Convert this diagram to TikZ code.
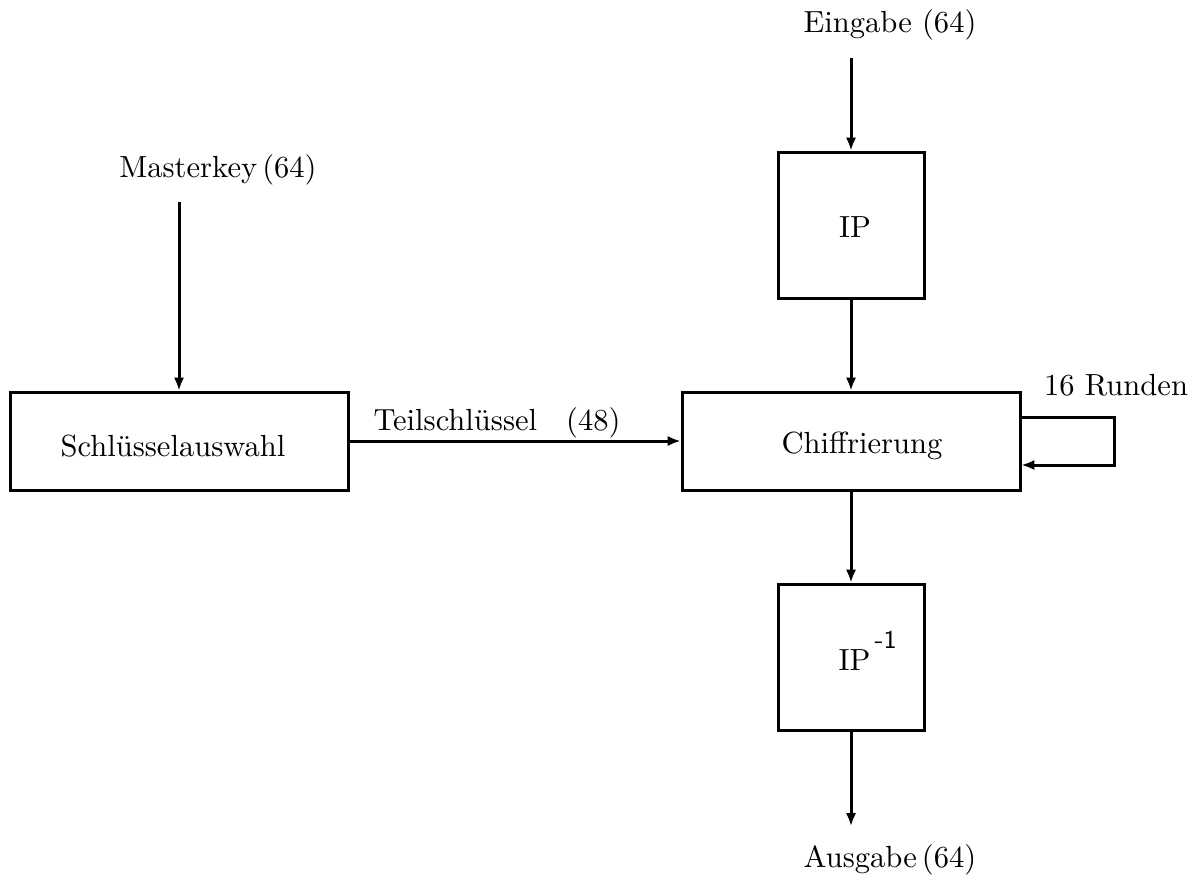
\documentclass[tikz,border=0pt]{standalone}
\usetikzlibrary{arrows.meta}
\begin{document}
\begin{tikzpicture}[x=0.35pt,y=-0.35pt,
  box/.style={draw,line width=1.05pt,inner sep=0pt},
  conn/.style={line width=1.05pt,-{Latex[length=4.5pt,width=3.6pt]}},
  lbl/.style={inner sep=0pt,font=\fontsize{10.7}{13}\selectfont}]
\useasboundingbox (0,0) rectangle (1204,883);
\node[box,minimum width=146*0.35pt,minimum height=146*0.35pt] (ip) at (851,225) {};
\node[lbl] at (855,227) {IP};
\node[box,minimum width=338*0.35pt,minimum height=98*0.35pt] (ch) at (851,441) {};
\node[lbl] at (862,446) {Chiffrierung};
\node[box,minimum width=146*0.35pt,minimum height=146*0.35pt] (ipi) at (851,657) {};
\node[lbl,anchor=base west] at (838,670) {IP\kern1.5pt\raisebox{7.6pt}{\sffamily\fontsize{9}{11}\selectfont -1}};
\node[box,minimum width=338*0.35pt,minimum height=98*0.35pt] (sa) at (179,441) {};
\node[lbl] at (173,446) {Schl\"usselauswahl};
\node[lbl] (ein) at (890,25) {Eingabe (64)};
\node[lbl] (aus) at (890,860) {Ausgabe\,(64)};
\node[lbl] (mk) at (218,170) {Masterkey\,(64)};
\node[lbl] (rd) at (1116,385) {16 Runden};
\coordinate (e0) at (851,58);
\coordinate (a1) at (851,826);
\coordinate (m0) at (179,202);
\draw[conn] (e0) -- (ip.north);
\draw[conn] (ip.south) -- (ch.north);
\draw[conn] (ch.south) -- (ipi.north);
\draw[conn] (ipi.south) -- (a1);
\draw[conn] (m0) -- (sa.north);
\draw[conn] (sa.east) -- (ch.west);
\node[lbl,anchor=base west] (ts) at (373,430) {Teilschl\"ussel\hspace{0.95em}(48)};
\coordinate (l1) at (1114,417);
\coordinate (l2) at (1114,465);
\draw[conn] (ch.east |- l1) -- (l1) -- (l2) -- (ch.east |- l2);
\end{tikzpicture}
\end{document}
